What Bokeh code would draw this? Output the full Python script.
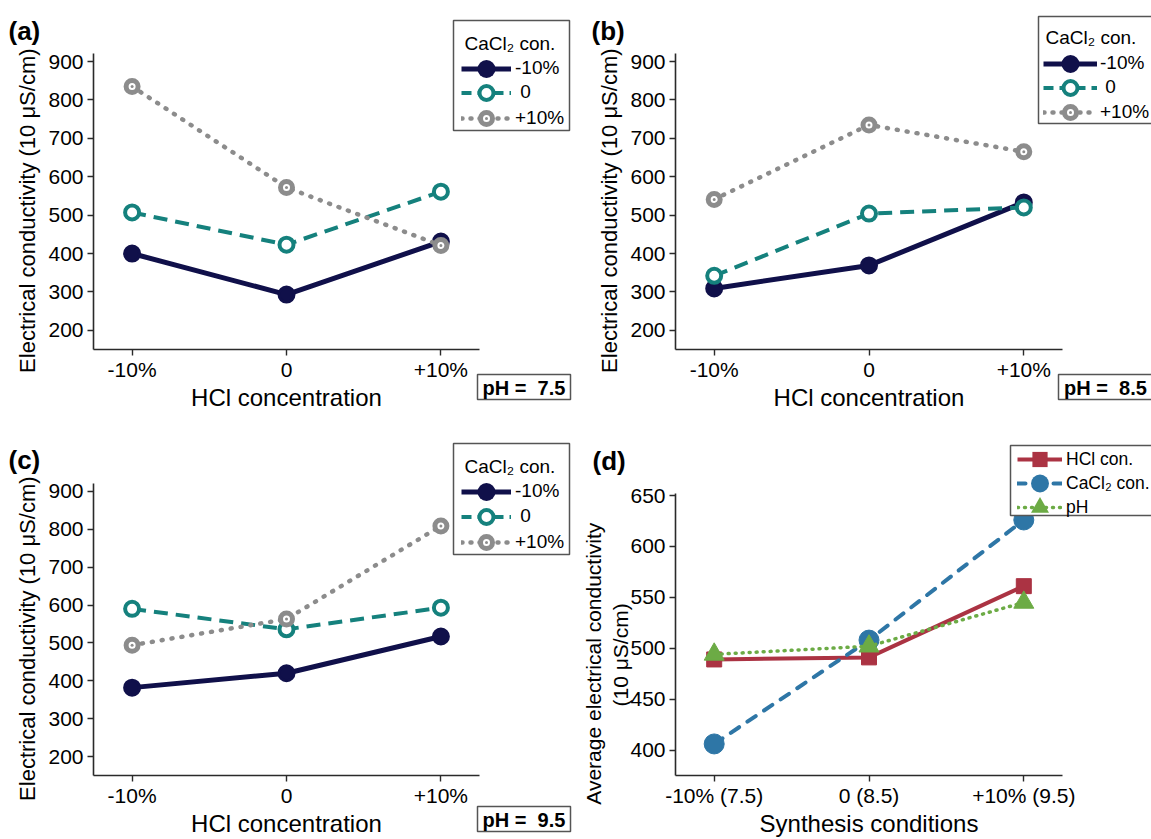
from bokeh.plotting import figure
from bokeh.models import (Range1d, Legend, LegendItem, Label, BoxAnnotation, FixedTicker, GridBox)
from bokeh.embed import file_html
from bokeh.resources import INLINE

# ---------------- data ----------------
hcl_labels = ["-10%", "0", "+10%"]
cacl2_legend_labels = ["-10%", " 0", "+10%"]
ph_labels = ["7.5", "8.5", "9.5"]

ph75_cacl2_m10 = [400, 293, 431]
ph75_cacl2_0 = [507, 423, 561]
ph75_cacl2_p10 = [835, 572, 421]

ph85_cacl2_m10 = [309, 369, 533]
ph85_cacl2_0 = [342, 504, 520]
ph85_cacl2_p10 = [541, 735, 665]

ph95_cacl2_m10 = [382, 420, 517]
ph95_cacl2_0 = [590, 536, 593]
ph95_cacl2_p10 = [494, 563, 809]

synthesis_labels = ["-10% (7.5)", "0 (8.5)", "+10% (9.5)"]
avg_legend_labels = ["HCl con.", "CaCl\u2082 con.", "pH"]
avg_hcl = [489, 491, 561]
avg_cacl2 = [406, 508, 626]
avg_ph = [494, 502, 545]

y_ticks_abc = [200, 300, 400, 500, 600, 700, 800, 900]
y_ticks_d = [400, 450, 500, 550, 600, 650]

# ---------------- style ----------------
FONT = "Liberation Sans"
NAVY = "#10104a"
TEAL = "#15817d"
GREY = "#8c8c8c"
RED = "#ab3343"
BLUE = "#2e76a6"
GREEN = "#6cab45"
AXC = "#2a2a2a"
BORDER = "#555555"
PAGE_W, PAGE_H = 1151, 839
NAN = float("nan")
NB = "\u00a0"  # non-breaking space, used to nudge the centred axis titles

CFG = {
    "a": dict(size=(575, 420), borders=(93, 96, 53, 71), xr=(-0.25, 2.25), yr=(150, 921)),
    "b": dict(size=(576, 420), borders=(100, 89, 53, 71), xr=(-0.25, 2.25), yr=(150, 921)),
    "c": dict(size=(575, 419), borders=(93, 96, 63, 60), xr=(-0.25, 2.25), yr=(150, 921)),
    "d": dict(size=(576, 419), borders=(100, 89, 73, 59), xr=(-0.25, 2.25), yr=(375, 652)),
}


def make_fig(cfg, ticks, xlabels, xtitle, ytitle, ytitle_size, ystandoff):
    W, H = cfg["size"]
    l, r, t, b = cfg["borders"]
    p = figure(width=W, height=H, x_range=Range1d(*cfg["xr"]), y_range=Range1d(*cfg["yr"]),
               output_backend="svg", toolbar_location=None,
               min_border_left=l, min_border_right=r, min_border_top=t, min_border_bottom=b)
    p.frame_align = False
    p.outline_line_color = None
    p.grid.visible = False
    p.xaxis.ticker = FixedTicker(ticks=list(range(len(xlabels))))
    p.xaxis.major_label_overrides = {i: s for i, s in enumerate(xlabels)}
    p.yaxis.ticker = FixedTicker(ticks=ticks)
    for ax in p.axis:
        ax.axis_line_color = AXC
        ax.axis_line_width = 1.6
        ax.major_tick_line_color = AXC
        ax.major_tick_line_width = 1.4
        ax.major_tick_out = 6
        ax.major_tick_in = 0
        ax.minor_tick_line_color = None
        ax.major_label_text_font = FONT
        ax.major_label_text_font_size = "21px"
        ax.major_label_text_color = "black"
        ax.axis_label_text_font = FONT
        ax.axis_label_text_font_style = "normal"
        ax.axis_label_text_color = "black"
    p.xaxis.major_label_standoff = 2
    p.xaxis.axis_label_standoff = 0
    p.xaxis.axis_label = xtitle
    p.xaxis.axis_label_text_font_size = "24px"
    p.yaxis.major_label_standoff = 4
    p.yaxis.axis_label_standoff = ystandoff
    p.yaxis.axis_label = ytitle
    p.yaxis.axis_label_text_font_size = ytitle_size
    return p


def series_panel(key, s_m10, s_0, s_p10):
    p = make_fig(CFG[key], y_ticks_abc, hcl_labels, "HCl concentration",
                 "Electrical conductivity (10 \u03bcS/cm)" + NB * 3, "22px", 5)
    x = list(range(len(hcl_labels)))
    p.line(x, s_m10, line_color=NAVY, line_width=5)
    p.scatter(x, s_m10, marker="circle", size=15, fill_color=NAVY, line_color=NAVY, line_width=3)
    p.line(x, s_0, line_color=TEAL, line_width=4, line_dash="14 8")
    p.scatter(x, s_0, marker="circle", size=14, fill_color="white", line_color=TEAL, line_width=4)
    p.line(x, s_p10, line_color=GREY, line_width=4.5, line_dash="1 9", line_cap="round")
    p.scatter(x, s_p10, marker="circle_dot", size=12, fill_color="white", line_color=GREY, line_width=5)
    return p


pa = series_panel("a", ph75_cacl2_m10, ph75_cacl2_0, ph75_cacl2_p10)
pb = series_panel("b", ph85_cacl2_m10, ph85_cacl2_0, ph85_cacl2_p10)
pc = series_panel("c", ph95_cacl2_m10, ph95_cacl2_0, ph95_cacl2_p10)

pd_ = make_fig(CFG["d"], y_ticks_d, synthesis_labels, "Synthesis conditions",
               "Average electrical conductivity" + NB * 10 + "\n(10 \u03bcS/cm)" + NB * 7, "21px", -5)
xd = list(range(len(synthesis_labels)))
pd_.line(xd, avg_hcl, line_color=RED, line_width=4)
pd_.scatter(xd, avg_hcl, marker="square", size=15, fill_color=RED, line_color=RED)
pd_.line(xd, avg_cacl2, line_color=BLUE, line_width=4, line_dash="10 10", line_cap="round")
pd_.scatter(xd, avg_cacl2, marker="circle", size=20, fill_color=BLUE, line_color=BLUE)
pd_.line(xd, avg_ph, line_color=GREEN, line_width=3.5, line_dash="1 6", line_cap="round")
pd_.scatter(xd, avg_ph, marker="triangle", size=20, fill_color=GREEN, line_color=GREEN)

# ---------------- overlay (legends, tags, pH boxes) in page pixels ----------------
ov = figure(width=PAGE_W, height=PAGE_H, x_range=Range1d(0, PAGE_W), y_range=Range1d(0, PAGE_H),
            output_backend="svg", toolbar_location=None, x_axis_type=None, y_axis_type=None,
            min_border_left=0, min_border_right=0, min_border_top=0, min_border_bottom=0)
ov.frame_align = False
ov.outline_line_color = None
ov.background_fill_alpha = 0
ov.border_fill_alpha = 0


def Y(py):
    return PAGE_H - py


def box(x0, y0, x1, y1):
    ov.add_layout(BoxAnnotation(left=x0, right=x1, top=Y(y0), bottom=Y(y1), fill_color="white",
                                fill_alpha=1, line_color=BORDER, line_width=1.5, line_alpha=1))


def text(px, py, s, size, bold=False, align="left"):
    ov.add_layout(Label(x=px, y=Y(py), text=s, text_font=FONT, text_font_size=size,
                        text_font_style="bold" if bold else "normal", text_color="black",
                        text_align=align, text_baseline="middle"))


def legend_entry(label, renderers, left, cy, gw, gh, standoff, size):
    ov.add_layout(Legend(items=[LegendItem(label=label, renderers=renderers)],
                         location=(left, PAGE_H - (cy + gh / 2)),
                         glyph_width=gw, glyph_height=gh, padding=0, margin=0, spacing=0,
                         label_standoff=standoff, label_text_font=FONT, label_text_font_size=size,
                         label_text_color="black", border_line_color=None, background_fill_alpha=0))


# legend key proxies (no data of their own)
k_navy = [ov.line([NAN], [NAN], line_color=NAVY, line_width=5),
          ov.scatter([NAN], [NAN], marker="circle", fill_color=NAVY, line_color=None)]
k_teal = [ov.line([NAN], [NAN], line_color=TEAL, line_width=4, line_dash="10 6"),
          ov.scatter([NAN], [NAN], marker="circle", fill_color="white", line_color=TEAL, line_width=4)]
k_grey = [ov.line([NAN], [NAN], line_color=GREY, line_width=4.5, line_dash="1 8", line_cap="round"),
          ov.scatter([NAN], [NAN], marker="circle_dot", fill_color="white", line_color=GREY, line_width=5)]
k_red = [ov.line([NAN], [NAN], line_color=RED, line_width=4),
         ov.scatter([NAN], [NAN], marker="square", fill_color=RED, line_color=None)]
k_blue = [ov.line([NAN], [NAN], line_color=BLUE, line_width=4, line_dash="8 10", line_cap="round"),
          ov.scatter([NAN], [NAN], marker="circle", fill_color=BLUE, line_color=None)]
k_green = [ov.line([NAN], [NAN], line_color=GREEN, line_width=3.5, line_dash="1 6", line_cap="round"),
           ov.scatter([NAN], [NAN], marker="triangle", fill_color=GREEN, line_color=None)]

LEG_ABC = [
    # box, title pos, glyph left, item centers, glyph width, standoff
    ((453, 20, 569, 130), (464, 43), 461, (68, 92, 118), 50, 4),
    ((1038, 16, 1153, 123), (1045, 37), 1043, (63, 87, 112), 54, 3),
    ((453, 443, 569, 554), (464, 466), 461, (491, 516, 542), 50, 4),
]
for (bx, (tx, ty), gl, cys, gw, so) in LEG_ABC:
    box(*bx)
    text(tx, ty, "CaCl\u2082 con.", "19px")
    legend_entry(cacl2_legend_labels[0], k_navy, gl, cys[0], gw, 45, so, "19px")
    legend_entry(cacl2_legend_labels[1], k_teal, gl, cys[1], gw, 35, so, "19px")
    legend_entry(cacl2_legend_labels[2], k_grey, gl, cys[2], gw, 30, so, "19px")

# panel d legend
box(1010, 445, 1153, 515)
legend_entry(avg_legend_labels[0], k_red, 1017, 459, 45, 38, 4, "17.5px")
legend_entry(avg_legend_labels[1], k_blue, 1017, 483, 45, 50, 4, "17.5px")
legend_entry(avg_legend_labels[2], k_green, 1017, 507, 45, 50, 4, "17.5px")

# pH boxes
PH_BOXES = [(477, 374, 570, 399), (1058, 374, 1152, 399), (477, 806, 570, 831)]
for phv, (x0, y0, x1, y1) in zip(ph_labels, PH_BOXES):
    box(x0, y0, x1, y1)
    text((x0 + x1) / 2, (y0 + y1) / 2 + 1, "pH =\u00a0 " + phv, "20px", bold=True, align="center")

# panel tags
for tag, (tx, ty) in zip(["(a)", "(b)", "(c)", "(d)"], [(8, 30), (591, 30), (8, 459), (592, 460)]):
    text(tx, ty, tag, "26px", bold=True)

layout = GridBox(children=[(pa, 0, 0), (pb, 0, 1), (pc, 1, 0), (pd_, 1, 1), (ov, 0, 0, 2, 2)])
open("out.html", "w").write(file_html(layout, INLINE))
